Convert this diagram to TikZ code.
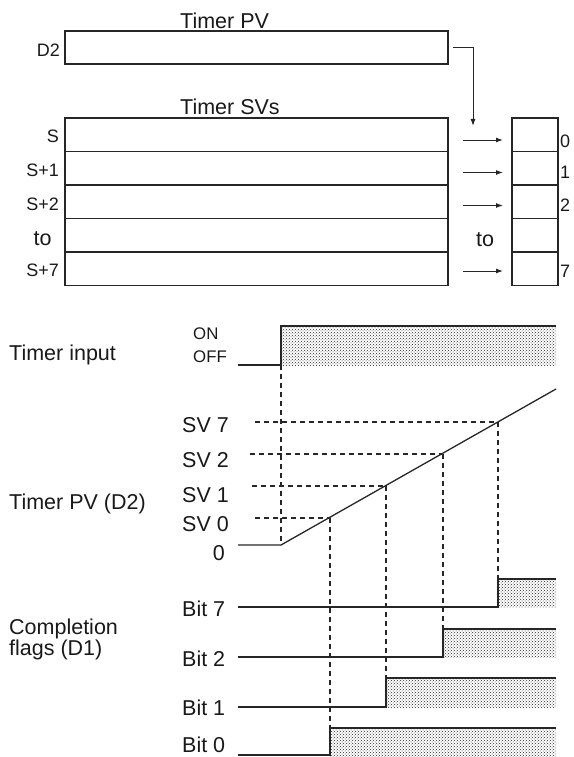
\documentclass[tikz,border=0pt]{standalone}
\usepackage{fontspec}
\setmainfont{Liberation Sans}
\usetikzlibrary{arrows.meta,patterns}
\begin{document}
\begin{tikzpicture}[x=1pt,y=-1pt,
  box/.style={draw=black!85,line width=1.2pt,rectangle,inner sep=0pt,outer sep=0pt},
  dsh/.style={draw=black!85,line width=1.1pt,dash pattern=on 5pt off 4pt},
  sig/.style={draw=black!85,line width=1.3pt},
  hatch/.style={pattern=crosshatch dots,pattern color=black!85},
  big/.style={font=\fontsize{21.5}{19}\selectfont,inner sep=0pt,text=black!90},
  mid/.style={font=\fontsize{18}{20}\selectfont,inner sep=0pt,text=black!90},
  sml/.style={font=\fontsize{16.8}{18}\selectfont,inner sep=0pt,text=black!90},
  arr/.style={draw=black!85,line width=1pt,-{Latex[length=7pt,width=5pt]}},
]
\useasboundingbox (0,0) rectangle (573,757);

% ---------- top: registers ----------
\node[big,anchor=base west] (tpvt) at (180,28.3) {Timer PV};
\node[box,minimum width=383pt,minimum height=33pt] (d2) at (256.5,47.5) {};
\node[mid,anchor=base east] (d2l) at (60,56.5) {D2};

\node[big,anchor=base west] (tsvt) at (180,115) {Timer SVs};
\node[box,minimum width=383pt,minimum height=33.5pt] (r0) at (256.5,134.75) {};
\node[box,minimum width=383pt,minimum height=33.5pt] (r1) at (256.5,168.25) {};
\node[box,minimum width=383pt,minimum height=33.5pt] (r2) at (256.5,201.75) {};
\node[box,minimum width=383pt,minimum height=33.5pt] (r3) at (256.5,235.25) {};
\node[box,minimum width=383pt,minimum height=33.5pt] (r4) at (256.5,268.75) {};

\node[mid,anchor=base east] (l0) at (59,142.7) {S};
\node[mid,anchor=base east] (l1) at (59,176) {S+1};
\node[mid,anchor=base east] (l2) at (59,210) {S+2};
\node[big,anchor=base] (l3) at (42.5,245.7) {to};
\node[mid,anchor=base east] (l4) at (59,276.7) {S+7};

\node[box,minimum width=46pt,minimum height=33.5pt] (b0) at (535,134.75) {};
\node[box,minimum width=46pt,minimum height=33.5pt] (b1) at (535,168.25) {};
\node[box,minimum width=46pt,minimum height=33.5pt] (b2) at (535,201.75) {};
\node[box,minimum width=46pt,minimum height=33.5pt] (b3) at (535,235.25) {};
\node[box,minimum width=46pt,minimum height=33.5pt] (b4) at (535,268.75) {};

\node[mid,anchor=base west] (n0) at (560,147.4) {0};
\node[mid,anchor=base west] (n1) at (560,178.4) {1};
\node[mid,anchor=base west] (n2) at (560,211.4) {2};
\node[mid,anchor=base west] (n7) at (560,277.4) {7};

\node[big,anchor=base] (mto) at (485,246) {to};

\coordinate (d2in) at (473,126);
\draw[arr] ([xshift=5pt]d2.east) -| (d2in);

\coordinate (a0s) at (463,140);   \coordinate (a0e) at (503,140);
\coordinate (a1s) at (463,172.5); \coordinate (a1e) at (503,172.5);
\coordinate (a2s) at (463,205.5); \coordinate (a2e) at (503,205.5);
\coordinate (a4s) at (463,271);   \coordinate (a4e) at (503,271);
\draw[arr] (a0s) -- (a0e);
\draw[arr] (a1s) -- (a1e);
\draw[arr] (a2s) -- (a2e);
\draw[arr] (a4s) -- (a4e);

% ---------- bottom: timing chart ----------
\node[big,anchor=base west] (tin) at (9,360.7) {Timer input};
\node[sml,anchor=base west] (on) at (193,339.3) {ON};
\node[sml,anchor=base west] (off) at (193,362.3) {OFF};

\node[big,anchor=base west] (tpvd) at (9,509.5) {Timer PV (D2)};
\node[big,anchor=base west] (sv7) at (182,432.7) {SV 7};
\node[big,anchor=base west] (sv2) at (182,467.7) {SV 2};
\node[big,anchor=base west] (sv1) at (182,502.7) {SV 1};
\node[big,anchor=base west] (sv0) at (182,531.7) {SV 0};
\node[big,anchor=base east] (zero) at (225,560.7) {0};

\node[big,anchor=base west,align=left] (cf) at (9,655.5) {Completion\\flags (D1)};
\node[big,anchor=base west] (bit7) at (182,616) {Bit 7};
\node[big,anchor=base west] (bit2) at (182,666) {Bit 2};
\node[big,anchor=base west] (bit1) at (182,715) {Bit 1};
\node[big,anchor=base west] (bit0) at (182,752.5) {Bit 0};

% hatched ON regions
\fill[hatch] (281,326) rectangle (556,365);
\fill[hatch] (498,579) rectangle (556,607);
\fill[hatch] (443,629) rectangle (556,657);
\fill[hatch] (386,678) rectangle (556,707);
\fill[hatch] (330,728) rectangle (556,757);

% dashed guides
\draw[dsh] (281,365) -- (281,545);
\draw[dsh] (255,422) -- (498,422);
\draw[dsh] (250,454) -- (443,454);
\draw[dsh] (252,486) -- (386,486);
\draw[dsh] (255,518) -- (330,518);
\draw[dsh] (498,422) -- (498,579);
\draw[dsh] (443,454) -- (443,629);
\draw[dsh] (386,486) -- (386,678);
\draw[dsh] (330,518) -- (330,728);

% signals
\draw[sig] (238,365) -- (281,365) -- (281,326) -- (556,326);
\draw[sig] (238,545) -- (281,545) -- (556,389);
\draw[sig] (238,607) -- (498,607) -- (498,579) -- (556,579);
\draw[sig] (238,657) -- (443,657) -- (443,629) -- (556,629);
\draw[sig] (238,707) -- (386,707) -- (386,678) -- (556,678);
\draw[sig] (238,755) -- (330,755) -- (330,728) -- (556,728);
\end{tikzpicture}
\end{document}
